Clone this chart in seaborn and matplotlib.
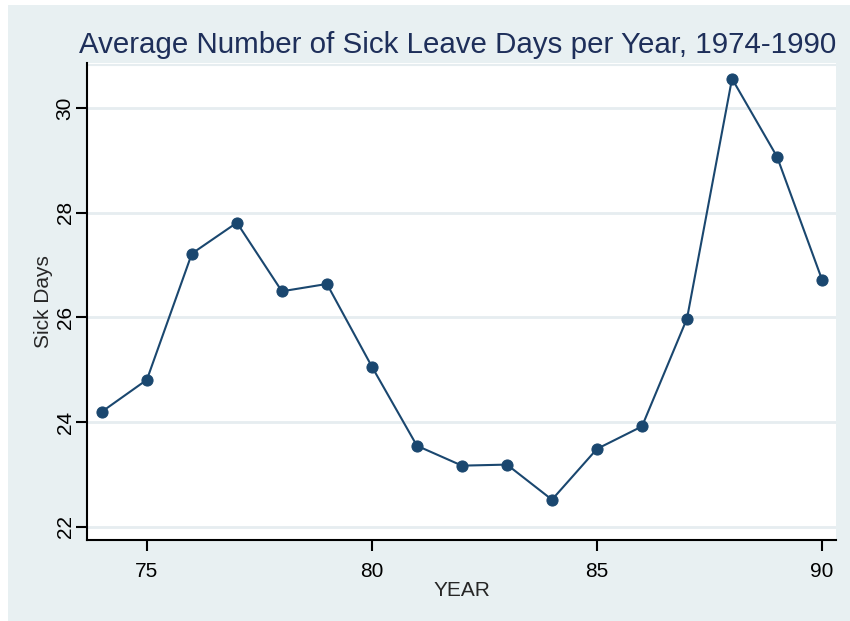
import pandas as pd
import numpy as np
import seaborn as sns
import matplotlib as mpl
import matplotlib.pyplot as plt
from matplotlib.patches import Rectangle

years = [74, 75, 76, 77, 78, 79, 80, 81, 82, 83, 84, 85, 86, 87, 88, 89, 90]
sick_days = [24.20, 24.81, 27.22, 27.81, 26.50, 26.64, 25.06, 23.55, 23.17,
             23.19, 22.52, 23.49, 23.92, 25.98, 30.56, 29.07, 26.72]
x_ticks = [75, 80, 85, 90]
y_ticks = [22, 24, 26, 28, 30]

df = pd.DataFrame({'YEAR': years, 'Sick Days': sick_days})

sns.set_style("white")
plt.rcParams['font.family'] = ['Liberation Sans', 'DejaVu Sans']

navy = '#1a476f'
bg = '#e8f0f2'

fig = plt.figure(figsize=(8.5, 6.21), dpi=100)
fig.patches.append(Rectangle((8 / 850, -0.1), 1, 1.1 - 5 / 621, transform=fig.transFigure,
                             facecolor=bg, edgecolor='none', zorder=-10))
ax = fig.add_axes([87 / 850, 81 / 621, 749 / 850, 477 / 621])
ax.set_facecolor('white')

for t in y_ticks:
    ax.axhline(t, color='#e6edf0', lw=2, zorder=0)
ax.axhline(30.83, color='#e6edf0', lw=1.5, zorder=0)

sns.lineplot(x='YEAR', y='Sick Days', data=df, ax=ax, color=navy, lw=1.5,
             marker='o', markersize=8, markeredgecolor=navy, markerfacecolor=navy)

ax.set_xlim(73.67, 90.31)
ax.set_ylim(21.75, 30.86)
ax.set_xticks(x_ticks)
ax.set_yticks(y_ticks)
ax.tick_params(axis='both', bottom=True, left=True, direction='out', length=8, width=1.5,
               color='black', labelsize=15, labelcolor='black')
ax.tick_params(axis='x', pad=8)
ax.tick_params(axis='y', pad=1)
plt.setp(ax.get_yticklabels(), rotation=90, va='center')

for side in ['top', 'right']:
    ax.spines[side].set_visible(False)
for side in ['left', 'bottom']:
    ax.spines[side].set_color('black')
    ax.spines[side].set_linewidth(1.5)

ax.set_xlabel('YEAR', fontsize=15, labelpad=0)
ax.set_ylabel('Sick Days', fontsize=15, labelpad=2)
fig.text(836 / 850, 1 - 45 / 621, 'Average Number of Sick Leave Days per Year, 1974-1990',
         ha='right', va='center', fontsize=21.25, color='#1e2f5a')

fig.savefig('out.png', dpi=100)
